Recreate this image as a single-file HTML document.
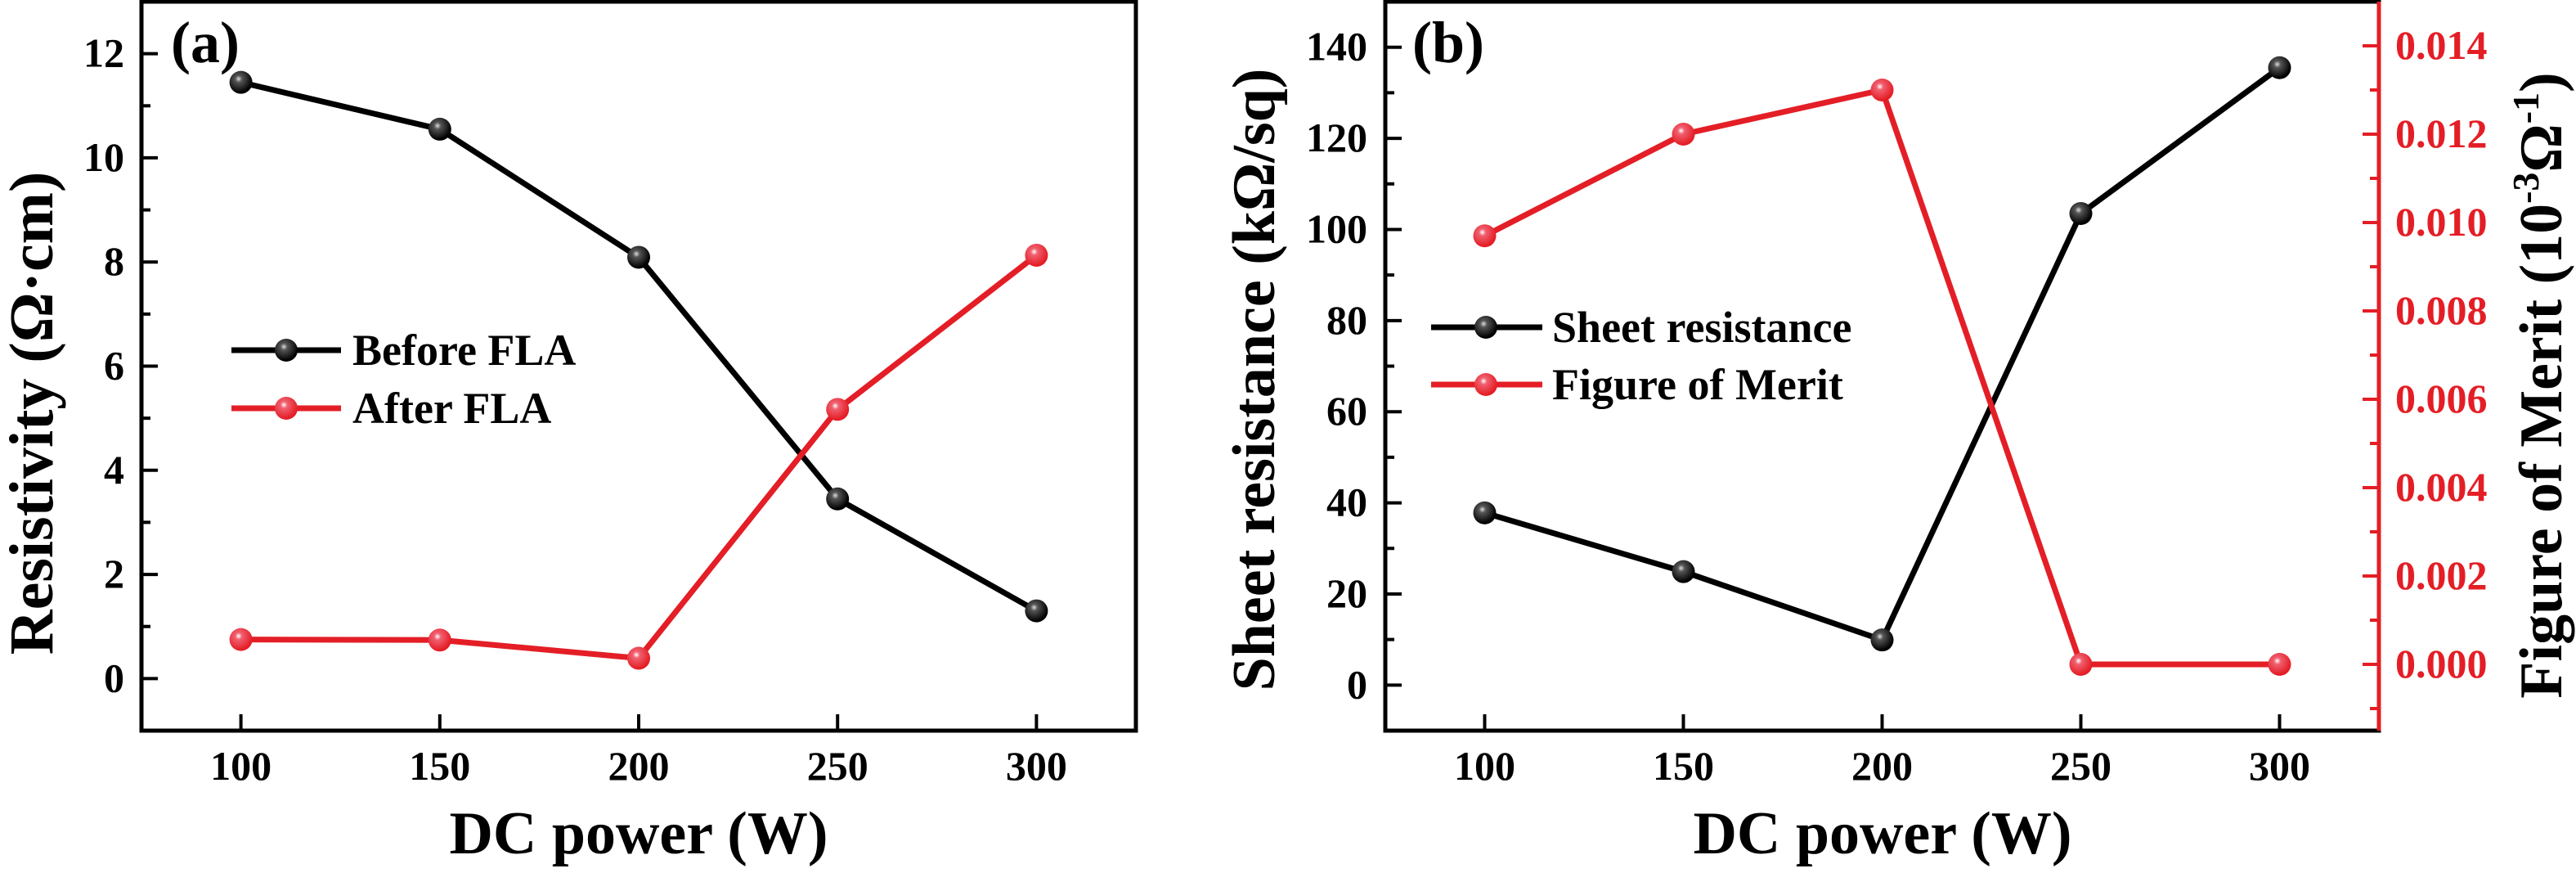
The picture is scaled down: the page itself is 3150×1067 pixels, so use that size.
<!DOCTYPE html>
<html><head><meta charset="utf-8"><style>
html,body{margin:0;padding:0;background:#fff;}
svg{display:block;font-family:"Liberation Serif",serif;font-weight:bold;}
</style></head><body>
<svg id="chart" width="3150" height="1067" viewBox="0 0 3150 1067" xmlns="http://www.w3.org/2000/svg">
<defs>
<radialGradient id="gBlack" cx="0.4" cy="0.35" r="0.6"><stop offset="0" stop-color="#ddd"/><stop offset="0.25" stop-color="#555"/><stop offset="1" stop-color="#000"/></radialGradient>
<radialGradient id="gRed" cx="0.4" cy="0.35" r="0.6"><stop offset="0" stop-color="#fff"/><stop offset="0.25" stop-color="#f06070"/><stop offset="1" stop-color="#e41e26"/></radialGradient>
</defs>
<g id="root"></g>
</svg>
<script>
const xCats = [100, 150, 200, 250, 300];
const beforeFLA = [11.45, 10.55, 8.09, 3.45, 1.3];
const afterFLA = [0.75, 0.74, 0.39, 5.17, 8.13];
const sheetRes = [37.8, 24.9, 9.9, 103.5, 135.5];
const fom = [0.0097, 0.0120, 0.0130, 0.0, 0.0];
const yTicksA = [0, 2, 4, 6, 8, 10, 12];
const yTicksB = [0, 20, 40, 60, 80, 100, 120, 140];
const yTicksR = [0, 0.002, 0.004, 0.006, 0.008, 0.010, 0.012, 0.014];

const NS = "http://www.w3.org/2000/svg";
const root = document.getElementById('root');
const RED = "#e41e26";
function el(tag, attrs, parent, text) {
  const e = document.createElementNS(NS, tag);
  for (const k in attrs) e.setAttribute(k, attrs[k]);
  if (text !== undefined) e.textContent = text;
  (parent || root).appendChild(e);
  return e;
}
function lin(d0, d1, r0, r1) { return v => r0 + (v - d0) / (d1 - d0) * (r1 - r0); }

const TOP = 2, BOT = 893;

function panel(px0, px1, name) {
  const g = el('g', {});
  
  
  const x = lin(75, 325, px0, px1);
  return { g, x };
}

// ---------- Panel A ----------
const A = panel(173, 1389, 'panel-a');
const yA = lin(-1, 13, BOT, TOP);
// frame
let fr = el('rect', { x: 173, y: TOP, width: 1389 - 173, height: BOT - TOP, fill: 'none', stroke: '#000', 'stroke-width': 5 }, A.g);


for (let v = -1; v <= 13; v++) {
  const y = yA(v); const major = v % 2 === 0;
  const t = el('line', { x1: 173, x2: 173 + (major ? 20 : 11), y1: y, y2: y, stroke: '#000', 'stroke-width': 4 }, A.g);
  
  
}
yTicksA.forEach(v => {
  const t = el('text', { x: 152, y: yA(v) + 16, 'text-anchor': 'end', 'font-size': 50 }, A.g, String(v));
  
  
});
xCats.forEach(c => {
  const xx = A.x(c);
  const t = el('line', { x1: xx, x2: xx, y1: BOT, y2: BOT - 20, stroke: '#000', 'stroke-width': 4 }, A.g);
  
  
  const l = el('text', { x: xx, y: 953, 'text-anchor': 'middle', 'font-size': 50 }, A.g, String(c));
  
  
});
function series(P, yf, vals, color, grad, name) {
  const pts = vals.map((v, i) => P.x(xCats[i]) + ',' + yf(v)).join(' ');
  const pl = el('polyline', { points: pts, fill: 'none', stroke: color, 'stroke-width': 7, 'stroke-linejoin': 'round' }, P.g);
  
  
  vals.forEach((v, i) => {
    const c = el('circle', { cx: P.x(xCats[i]), cy: yf(v), r: 14, fill: grad }, P.g);
    
    
  });
}
series(A, yA, beforeFLA, '#000', 'url(#gBlack)', 'before-fla');
series(A, yA, afterFLA, RED, 'url(#gRed)', 'after-fla');
function legend(P, x0, x1, xm, tx, y, color, grad, label, name) {
  const lg = el('g', {}, P.g);
  
  
  el('line', { x1: x0, x2: x1, y1: y, y2: y, stroke: color, 'stroke-width': 7 }, lg);
  el('circle', { cx: xm, cy: y, r: 14, fill: grad }, lg);
  el('text', { x: tx, y: y + 18, 'font-size': 54 }, lg, label);
}
legend(A, 283, 417, 350, 431, 428, '#000', 'url(#gBlack)', 'Before FLA', 'legend-before-fla');
legend(A, 283, 417, 350, 431, 499, RED, 'url(#gRed)', 'After FLA', 'legend-after-fla');
let t;
t = el('text', { x: 209, y: 76, 'font-size': 72 }, A.g, '(a)');


t = el('text', { x: 781, y: 1043, 'text-anchor': 'middle', 'font-size': 74 }, A.g, 'DC power (W)');


t = el('text', { x: 0, y: 0, 'text-anchor': 'middle', 'font-size': 76, transform: 'translate(64,505) rotate(-90)' }, A.g, 'Resistivity (Ω·cm)');



// ---------- Panel B ----------
const B = panel(1694, 2909, 'panel-b');
const yB = lin(-10, 150, BOT, TOP);
const yR = lin(-0.0015, 0.015, BOT, TOP);
fr = el('rect', { x: 1694, y: TOP, width: 2909 - 1694, height: BOT - TOP, fill: 'none', stroke: '#000', 'stroke-width': 5 }, B.g);


const ra = el('line', { x1: 2909, x2: 2909, y1: TOP, y2: BOT, stroke: RED, 'stroke-width': 5 }, B.g);


for (let v = -10; v <= 150; v += 10) {
  const y = yB(v); const major = v % 20 === 0;
  const tk = el('line', { x1: 1694, x2: 1694 + (major ? 20 : 11), y1: y, y2: y, stroke: '#000', 'stroke-width': 4 }, B.g);
  
  
}
yTicksB.forEach(v => {
  const l = el('text', { x: 1672, y: yB(v) + 16, 'text-anchor': 'end', 'font-size': 50 }, B.g, String(v));
  
  
});
for (let k = -1; k <= 14; k++) {
  const v = k * 0.001; const y = yR(v); const major = k % 2 === 0;
  const tk = el('line', { x1: 2909, x2: 2909 - (major ? 20 : 11), y1: y, y2: y, stroke: RED, 'stroke-width': 4 }, B.g);
  
  
}
yTicksR.forEach(v => {
  const l = el('text', { x: 2929, y: yR(v) + 16, 'font-size': 50, fill: RED }, B.g, v.toFixed(3));
  
  
});
xCats.forEach(c => {
  const xx = B.x(c);
  const tk = el('line', { x1: xx, x2: xx, y1: BOT, y2: BOT - 20, stroke: '#000', 'stroke-width': 4 }, B.g);
  
  
  const l = el('text', { x: xx, y: 953, 'text-anchor': 'middle', 'font-size': 50 }, B.g, String(c));
  
  
});
series(B, yB, sheetRes, '#000', 'url(#gBlack)', 'sheet-resistance');
series(B, yR, fom, RED, 'url(#gRed)', 'figure-of-merit');
legend(B, 1750, 1886, 1817, 1898, 400, '#000', 'url(#gBlack)', 'Sheet resistance', 'legend-sheet-resistance');
legend(B, 1750, 1886, 1817, 1898, 470, RED, 'url(#gRed)', 'Figure of Merit', 'legend-figure-of-merit');
t = el('text', { x: 1727, y: 76, 'font-size': 72 }, B.g, '(b)');


t = el('text', { x: 2302, y: 1043, 'text-anchor': 'middle', 'font-size': 74 }, B.g, 'DC power (W)');


t = el('text', { x: 0, y: 0, 'text-anchor': 'middle', 'font-size': 74, transform: 'translate(1558,464) rotate(-90)' }, B.g, 'Sheet resistance (kΩ/sq)');


t = el('text', { x: 0, y: 0, 'text-anchor': 'middle', 'font-size': 74, transform: 'translate(3132,471) rotate(-90)' }, B.g);


el('tspan', {}, t, 'Figure of Merit (10');
el('tspan', { dy: -28, 'font-size': 46 }, t, '-3');
el('tspan', { dy: 28 }, t, 'Ω');
el('tspan', { dy: -28, 'font-size': 46 }, t, '-1');
el('tspan', { dy: 28 }, t, ')');
</script>
</body></html>
